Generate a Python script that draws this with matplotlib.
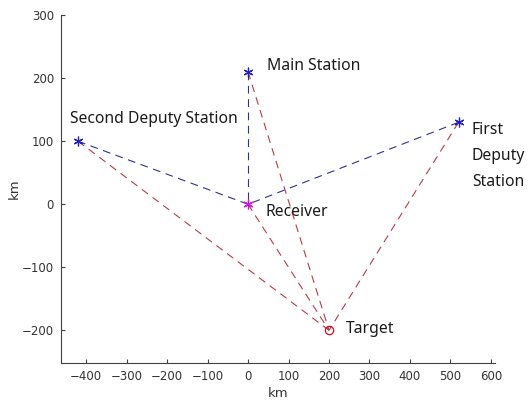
import matplotlib
matplotlib.use('Agg')
import matplotlib.pyplot as plt

# station positions (km)
names = ['Main Station', 'Second Deputy Station', 'First Deputy Station']
station_x = [0, -420, 520]
station_y = [210, 100, 130]
receiver = (0, 0)
target = (200, -200)

fig = plt.figure(figsize=(5.28, 4.08), dpi=100)
ax = fig.add_axes([0.1155, 0.110, 0.822, 0.853])

asterisk = (6, 2, 0)
dash = (7, 5)

# direct paths station -> receiver (blue), echo paths station -> target (red)
for sx, sy in zip(station_x, station_y):
    ax.plot([sx, receiver[0]], [sy, receiver[1]], '--', color='#303090', lw=0.8, dashes=dash)
for sx, sy in zip(station_x, station_y):
    ax.plot([sx, target[0]], [sy, target[1]], '--', color='#b83a48', lw=0.8, dashes=dash)
ax.plot([receiver[0], target[0]], [receiver[1], target[1]], '--', color='#b83a48', lw=0.8, dashes=dash)

ax.plot(station_x, station_y, ls='none', marker=asterisk, color='#2020c0', ms=7, mew=0.9)
ax.plot(receiver[0], receiver[1], ls='none', marker=asterisk, color='#d010e0', ms=7, mew=0.9)
ax.plot(target[0], target[1], 'o', color='#d01020', ms=6, mfc='none', mew=0.9)

lab = dict(fontsize=11.3, family='Noto Sans', color='#1a1a1a')
ax.text(47, 219, 'Main Station', va='center', **lab)
ax.text(-440, 135, 'Second Deputy Station', va='center', **lab)
ax.text(553, 131, 'First\nDeputy\nStation', va='top', linespacing=1.85, **lab)
ax.text(44, -13, 'Receiver', va='center', **lab)
ax.text(242, -198, 'Target', va='center', **lab)

ax.set_xlim(-462, 610)
ax.set_ylim(-252, 300)
ax.set_xticks(range(-400, 601, 100))
ax.set_yticks(range(-200, 301, 100))
ax.set_xlabel('km', fontsize=9.5, labelpad=3, color='#333333')
ax.set_ylabel('km', fontsize=9.5, labelpad=1, color='#333333')
ax.spines['top'].set_visible(False)
ax.spines['right'].set_visible(False)
for s in ['left', 'bottom']:
    ax.spines[s].set_color('#404040')
    ax.spines[s].set_linewidth(0.8)
ax.tick_params(direction='in', length=3, labelsize=8.5, colors='#404040', labelcolor='#333333', pad=5)

fig.savefig('out.png', dpi=100)
